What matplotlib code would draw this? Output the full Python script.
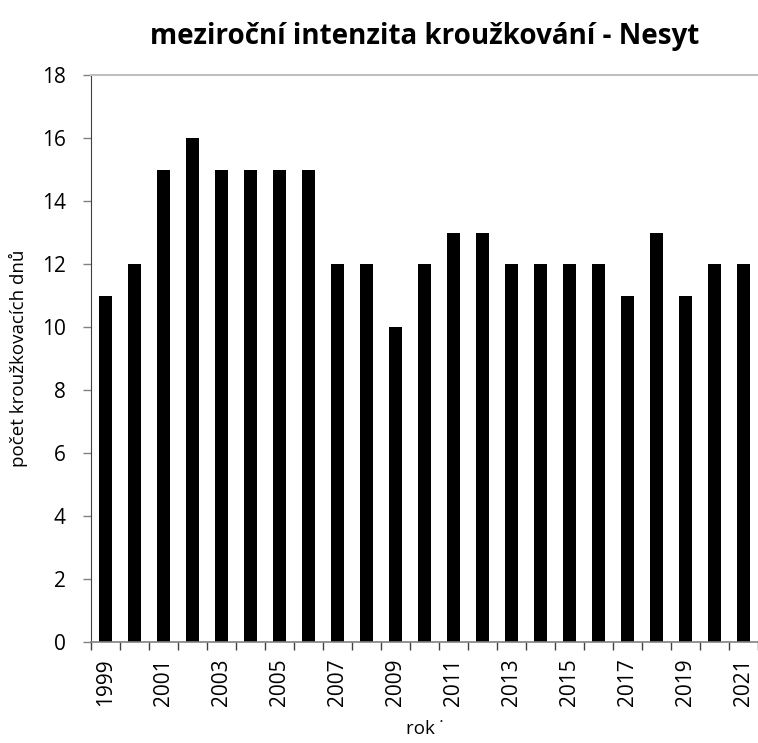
import matplotlib
matplotlib.use('Agg')
import numpy as np
import matplotlib.pyplot as plt

plt.rcParams['font.family'] = ['Open Sans', 'DejaVu Sans']

years = list(range(1999, 2022))
days = [11, 12, 15, 16, 15, 15, 15, 15, 12, 12, 10, 12, 13, 13, 12, 12, 12, 12, 11, 13, 11, 12, 12]
yticks = [0, 2, 4, 6, 8, 10, 12, 14, 16, 18]

fig = plt.figure(figsize=(7.58, 7.43), dpi=100)
ax = fig.add_axes([90.7 / 758, 1 - 642 / 743, 1 - 90.7 / 758, (642 - 75) / 743])

x = np.arange(len(years))
ax.bar(x, days, width=0.44, color='black')

ax.set_xlim(-0.5, len(years) - 0.5)
ax.set_ylim(0, 18)

# major ticks sit between the bars, labels for odd years on minor ticks
ax.set_xticks(np.arange(len(years) + 1) - 0.5)
ax.set_xticklabels([])
odd = [i for i, y in enumerate(years) if y % 2 == 1]
ax.set_xticks(odd, minor=True)
ax.set_xticklabels([str(years[i]) for i in odd], minor=True, rotation=90, fontsize=15)
ax.tick_params(axis='x', which='major', direction='out', length=6, width=1, color='#404040')
ax.tick_params(axis='x', which='minor', length=0, pad=12)

ax.set_yticks(yticks)
ax.set_yticklabels([str(v) for v in yticks], fontsize=15)
ax.tick_params(axis='y', direction='out', length=6, width=1, color='#808080', pad=12)

ax.spines['right'].set_visible(False)
ax.spines['top'].set_color('#bfbfbf')
ax.spines['top'].set_linewidth(1.5)
ax.spines['left'].set_color('#404040')
ax.spines['bottom'].set_color('#808080')
ax.spines['bottom'].set_linewidth(1.2)

ax.set_ylabel('počet kroužkovacích dnů', fontsize=13.5, labelpad=10)
ax.set_xlabel('rok ˙', fontsize=13.5, labelpad=10)
ax.set_title('meziroční intenzita kroužkování - Nesyt', fontsize=20, fontweight='bold', pad=22)

fig.savefig('out.png', dpi=100)
